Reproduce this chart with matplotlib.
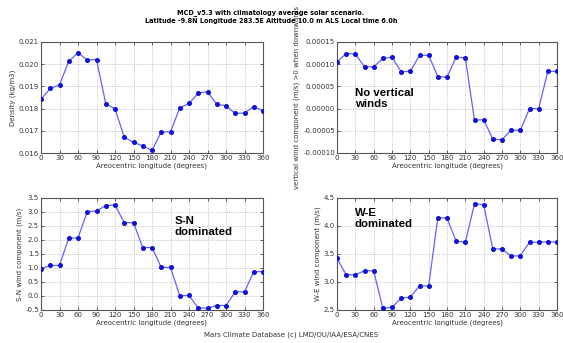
import matplotlib
matplotlib.use("Agg")
import matplotlib.pyplot as plt
import numpy as np
from matplotlib.ticker import FormatStrFormatter

lon = [0, 15, 30, 45, 60, 75, 90, 105, 120, 135, 150, 165, 180, 195, 210, 225, 240, 255, 270, 285, 300, 315, 330, 345, 360]
density = [0.01842, 0.01891, 0.01907, 0.02013, 0.02052, 0.02019, 0.02021, 0.01822, 0.01799, 0.01671, 0.01648, 0.01632, 0.01612,
           0.01695, 0.01695, 0.01803, 0.01823, 0.01870, 0.01876, 0.01819, 0.01813, 0.01778, 0.01780, 0.01809, 0.01790]
vertical = [0.000105, 0.000124, 0.000123, 0.000094, 0.000094, 0.000113, 0.000116, 0.000083, 0.000084, 0.000120, 0.000120,
            0.000072, 0.000071, 0.000116, 0.000114, -0.000026, -0.000025, -0.000069, -0.000070, -0.000048, -0.000049,
            0.0, 0.0, 0.000084, 0.000084]
sn_wind = [0.98, 1.09, 1.09, 2.07, 2.07, 3.01, 3.04, 3.23, 3.25, 2.62, 2.62, 1.73, 1.73, 1.02, 1.02, 0.01, 0.02,
           -0.43, -0.43, -0.34, -0.34, 0.15, 0.15, 0.87, 0.87]
we_wind = [3.42, 3.13, 3.13, 3.20, 3.20, 2.53, 2.55, 2.71, 2.73, 2.93, 2.93, 4.15, 4.14, 3.73, 3.71, 4.40, 4.38,
           3.59, 3.59, 3.46, 3.47, 3.71, 3.71, 3.72, 3.71]

xticks = list(range(0, 361, 30))
xlabel = "Areocentric longitude (degrees)"
title1 = "MCD_v5.3 with climatology average solar scenario."
title2 = "Latitude -9.8N Longitude 283.5E Altitude 10.0 m ALS Local time 6.0h"
footer = "Mars Climate Database (c) LMD/OU/IAA/ESA/CNES"

panels = [
    dict(y=density, ylabel="Density (kg/m3)", ylim=(0.016, 0.021), yticks=np.arange(0.016, 0.02101, 0.001), fmt="%.3f",
         pos=[41, 42, 263, 153], note=None),
    dict(y=vertical, ylabel="vertical wind component (m/s) >0 when downwards", ylim=(-0.0001, 0.00015),
         yticks=np.arange(-0.0001, 0.000151, 0.00005), fmt="%.5f", pos=[337, 42, 557, 153],
         note=("No vertical\nwinds", 29, 0.000046)),
    dict(y=sn_wind, ylabel="S-N wind component (m/s)", ylim=(-0.5, 3.5), yticks=np.arange(-0.5, 3.51, 0.5), fmt="%.1f",
         pos=[41, 198, 263, 310], note=("S-N\ndominated", 217, 2.84)),
    dict(y=we_wind, ylabel="W-E wind component (m/s)", ylim=(2.5, 4.5), yticks=np.arange(2.5, 4.51, 0.5), fmt="%.1f",
         pos=[337, 198, 557, 310], note=("W-E\ndominated", 29, 4.32)),
]

W, H = 563, 343
fig = plt.figure(figsize=(W / 100, H / 100), dpi=100)
fig.patch.set_facecolor("white")

for p in panels:
    x0, y0, x1, y1 = p["pos"]
    ax = fig.add_axes([x0 / W, 1 - y1 / H, (x1 - x0) / W, (y1 - y0) / H])
    ax.plot(lon, p["y"], color="#6262ff", lw=0.9, marker="o", ms=2.6, mfc="#1010d8", mec="#1010d8", zorder=3)
    ax.set_xlim(0, 360)
    ax.set_ylim(*p["ylim"])
    ax.set_xticks(xticks)
    ax.set_yticks(p["yticks"])
    ax.yaxis.set_major_formatter(FormatStrFormatter(p["fmt"]))
    ax.tick_params(direction="in", length=2.5, width=0.5, labelsize=5, pad=1.5, top=True, right=True,
                   colors="#222222", labelcolor="#333333")
    ax.grid(True, linestyle=":", color="#b0b0b0", lw=0.6)
    for s in ax.spines.values():
        s.set_color("#555555")
        s.set_linewidth(0.8)
    ax.set_xlabel(xlabel, fontsize=5, labelpad=1, color="#333333")
    ax.set_ylabel(p["ylabel"], fontsize=5, labelpad=2, color="#333333")
    if p["note"]:
        t, nx, ny = p["note"]
        ax.text(nx, ny, t, fontsize=8.2, fontweight="bold", family="Liberation Sans", va="top", ha="left",
                linespacing=1.1, color="black")

fig.text(271 / W, 1 - 13 / H, title1, ha="center", va="center", fontsize=4.7, fontweight="bold")
fig.text(271 / W, 1 - 21 / H, title2, ha="center", va="center", fontsize=4.7, fontweight="bold")
fig.text(291 / W, 1 - 335 / H, footer, ha="center", va="center", fontsize=5, color="#333333")

fig.savefig("out.png", dpi=100)
